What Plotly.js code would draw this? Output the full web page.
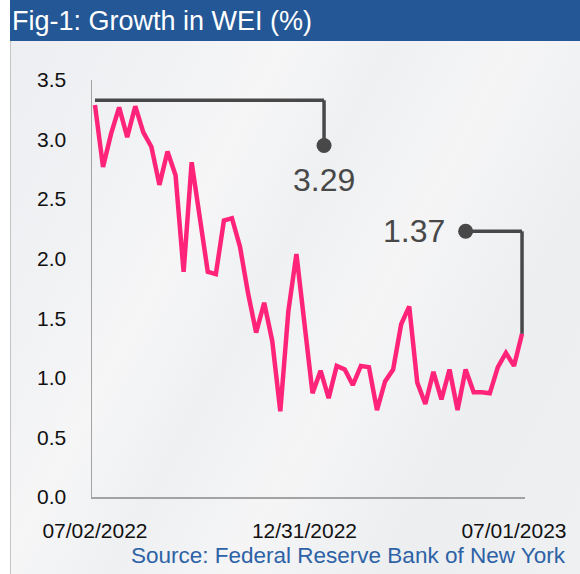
<!DOCTYPE html>
<html>
<head>
<meta charset="utf-8">
<script src="https://cdn.plot.ly/plotly-3.0.1.min.js"></script>
<style>
  html, body { margin: 0; padding: 0; background: #ffffff; }
  #wrap { position: relative; width: 580px; height: 574px; overflow: hidden; background: #ffffff; }
  #bg { position: absolute; left: 10px; top: 0; width: 570px; height: 574px;
        border-left: 1px solid #c4c4c4;
        background: linear-gradient(118deg, #eceef1 0%, #f1f2f4 22%, #f6f6f7 34%, #eef0f2 46%, #f5f5f6 60%, #eceef0 78%, #eef0f2 100%); }
  #bar { position: absolute; left: 10px; top: 0; width: 570px; height: 41px; background: #245796; }
  #chart { position: absolute; left: 0; top: 0; width: 580px; height: 574px; }
</style>
</head>
<body>
<div id="wrap">
  <div id="bg"></div>
  <div id="bar"></div>
  <div id="chart"></div>
</div>
<script>
// Weekly dates (Saturdays)
const weeks = [
  "2022-07-02","2022-07-09","2022-07-16","2022-07-23","2022-07-30",
  "2022-08-06","2022-08-13","2022-08-20","2022-08-27",
  "2022-09-03","2022-09-10","2022-09-17","2022-09-24",
  "2022-10-01","2022-10-08","2022-10-15","2022-10-22","2022-10-29",
  "2022-11-05","2022-11-12","2022-11-19","2022-11-26",
  "2022-12-03","2022-12-10","2022-12-17","2022-12-24","2022-12-31",
  "2023-01-07","2023-01-14","2023-01-21","2023-01-28",
  "2023-02-04","2023-02-11","2023-02-18","2023-02-25",
  "2023-03-04","2023-03-11","2023-03-18","2023-03-25",
  "2023-04-01","2023-04-08","2023-04-15","2023-04-22","2023-04-29",
  "2023-05-06","2023-05-13","2023-05-20","2023-05-27",
  "2023-06-03","2023-06-10","2023-06-17","2023-06-24",
  "2023-07-01","2023-07-08"
];
// WEI growth (%)
const wei = [
  3.29, 2.77, 3.05, 3.27, 3.02,
  3.28, 3.06, 2.94, 2.62,
  2.90, 2.70, 1.89, 2.81,
  2.32, 1.89, 1.87, 2.32, 2.34,
  2.10, 1.71, 1.38, 1.63,
  1.31, 0.72, 1.56, 2.04, 1.45,
  0.87, 1.06, 0.83, 1.10,
  1.07, 0.94, 1.10, 1.09,
  0.73, 0.97, 1.07, 1.45,
  1.60, 0.96, 0.78, 1.05, 0.82,
  1.07, 0.73, 1.07, 0.88,
  0.88, 0.87, 1.09, 1.21,
  1.10, 1.37
];
const tickDates = ["2022-07-02", "2022-12-31", "2023-07-01"];
const tickLabels = ["07/02/2022", "12/31/2022", "07/01/2023"];
const yTicks = [0, 0.5, 1.0, 1.5, 2.0, 2.5, 3.0, 3.5];

// Callout anchors
const firstDate = weeks[0], firstVal = wei[0];
const lastDate = weeks[weeks.length - 1], lastVal = wei[wei.length - 1];
const callout1 = { date: "2023-01-17", top: 3.33, dot: 2.95 };
const callout2 = { date: "2023-05-20", level: 2.23 };

const FONT = "Liberation Sans, Arial, sans-serif";
const DARK = "#484848";

const traces = [
  {
    x: weeks, y: wei, type: "scatter", mode: "lines",
    line: { color: "#ff2479", width: 4.5, shape: "linear" },
    hoverinfo: "skip", cliponaxis: false
  },
  {
    x: [callout1.date, callout2.date], y: [callout1.dot, callout2.level],
    type: "scatter", mode: "markers",
    marker: { color: DARK, size: 15 },
    hoverinfo: "skip", cliponaxis: false
  }
];

const shapes = [
  { type: "line", xref: "x", yref: "y", x0: firstDate, x1: callout1.date, y0: callout1.top, y1: callout1.top,
    line: { color: DARK, width: 3.5 } },
  { type: "line", xref: "x", yref: "y", x0: callout1.date, x1: callout1.date, y0: callout1.top, y1: callout1.dot,
    line: { color: DARK, width: 3.5 } },
  { type: "line", xref: "x", yref: "y", x0: callout2.date, x1: lastDate, y0: callout2.level, y1: callout2.level,
    line: { color: DARK, width: 3.5 } },
  { type: "line", xref: "x", yref: "y", x0: lastDate, x1: lastDate, y0: callout2.level, y1: lastVal,
    line: { color: DARK, width: 3.5 } }
];

const annotations = [
  { xref: "x", yref: "y", x: callout1.date, y: callout1.dot, text: firstVal.toFixed(2),
    showarrow: false, xanchor: "center", yanchor: "top", yshift: -14,
    font: { family: FONT, size: 32, color: DARK } },
  { xref: "x", yref: "y", x: callout2.date, y: callout2.level, text: lastVal.toFixed(2),
    showarrow: false, xanchor: "right", yanchor: "middle", xshift: -19,
    font: { family: FONT, size: 32, color: DARK } },
  { xref: "paper", yref: "paper", x: 1.1, y: -0.14, text: "Source: Federal Reserve Bank of New York",
    showarrow: false, xanchor: "right", yanchor: "middle",
    font: { family: FONT, size: 22.5, color: "#2d62a6" } }
];

const layout = {
  width: 580, height: 574,
  margin: { l: 92, r: 55, t: 80, b: 77 },
  paper_bgcolor: "rgba(0,0,0,0)",
  plot_bgcolor: "rgba(0,0,0,0)",
  showlegend: false,
  title: {
    text: "Fig-1: Growth in WEI (%)",
    x: 12 / 580, xanchor: "left", xref: "container",
    y: 1 - 21 / 574, yanchor: "middle", yref: "container",
    font: { family: FONT, size: 27, color: "#ffffff" }
  },
  xaxis: {
    type: "date",
    range: ["2022-06-29 10:00", "2023-07-10 14:00"],
    tickvals: tickDates, ticktext: tickLabels,
    showgrid: false, zeroline: false,
    showline: true, linecolor: "#a3a3a3", linewidth: 1.5,
    ticks: "", ticklabelstandoff: 14,
    tickfont: { family: FONT, size: 21, color: "#111111" },
    fixedrange: true
  },
  yaxis: {
    range: [0, 3.5],
    tickvals: yTicks, ticktext: yTicks.map(v => v.toFixed(1)),
    showgrid: false, zeroline: false,
    showline: true, linecolor: "#a3a3a3", linewidth: 1.5,
    ticks: "", ticklabelstandoff: 20,
    tickfont: { family: FONT, size: 21, color: "#111111" },
    fixedrange: true
  },
  shapes: shapes,
  annotations: annotations
};

Plotly.newPlot("chart", traces, layout, { displayModeBar: false, staticPlot: true });
</script>
</body>
</html>
